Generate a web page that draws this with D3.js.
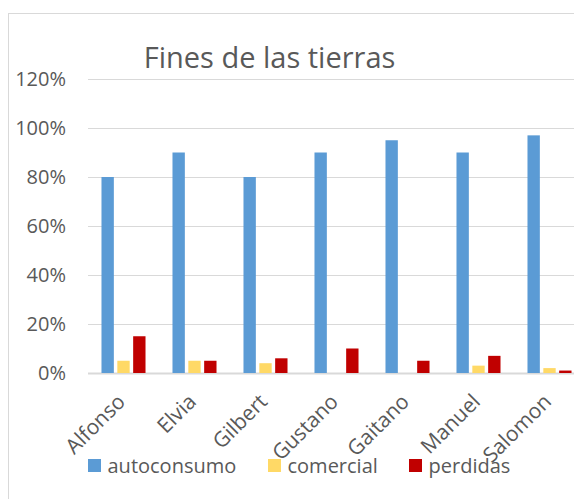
<!DOCTYPE html>
<html>
<head>
<meta charset="utf-8">
<script src="https://cdn.jsdelivr.net/npm/d3@7"></script>
<style>
  body { margin: 0; background: #fff; }
  text { font-family: "Open Sans", Lato, sans-serif; fill: #595959; }
</style>
</head>
<body>
<div id="chart"></div>
<script>
// values
const categories = ["Alfonso", "Elvia", "Gilbert", "Gustano", "Gaitano", "Manuel", "Salomon"];
const autoconsumo = [0.80, 0.90, 0.80, 0.90, 0.95, 0.90, 0.97];
const comercial = [0.05, 0.05, 0.04, 0.00, 0.00, 0.03, 0.02];
const perdidas = [0.15, 0.05, 0.06, 0.10, 0.05, 0.07, 0.01];
const seriesNames = ["autoconsumo", "comercial", "perdidas"];
const yTicks = [0, 0.2, 0.4, 0.6, 0.8, 1.0, 1.2];

const colors = { autoconsumo: "#5b9bd5", comercial: "#ffd966", perdidas: "#c00000" };
const seriesValues = { autoconsumo, comercial, perdidas };

const width = 574, height = 499;

const svg = d3.select("#chart")
    .append("svg")
    .attr("width", width)
    .attr("height", height);

// chart frame (runs off the right and bottom edges)
svg.append("rect")
    .attr("x", 8.5).attr("y", 13.5)
    .attr("width", 640).attr("height", 640)
    .attr("fill", "none")
    .attr("stroke", "#d9d9d9");

const x0 = d3.scaleBand()
    .domain(categories)
    .range([88, 585])
    .paddingInner(0.38)
    .paddingOuter(0.19);

const x1 = d3.scaleBand()
    .domain(seriesNames)
    .range([0, x0.bandwidth()])
    .paddingInner(0.22);

const y = d3.scaleLinear()
    .domain([0, 1.2])
    .range([373, 79]);

// gridlines
svg.append("g")
    .selectAll("line")
    .data(yTicks)
    .join("line")
    .attr("x1", 88).attr("x2", 600)
    .attr("y1", d => Math.round(y(d)) + 0.5)
    .attr("y2", d => Math.round(y(d)) + 0.5)
    .attr("stroke", "#d9d9d9")
    .attr("stroke-width", d => d === 0 ? 2 : 1);

// y tick labels
svg.append("g")
    .selectAll("text")
    .data(yTicks)
    .join("text")
    .attr("x", 66)
    .attr("y", d => y(d) + 7)
    .attr("text-anchor", "end")
    .style("font-size", "20px")
    .text(d => d3.format(".0%")(d));

// bars
const groups = svg.append("g")
    .selectAll("g")
    .data(categories)
    .join("g")
    .attr("transform", d => `translate(${x0(d)},0)`);

groups.selectAll("rect")
    .data((d, i) => seriesNames.map(s => ({ key: s, value: seriesValues[s][i] })))
    .join("rect")
    .attr("x", d => x1(d.key))
    .attr("width", x1.bandwidth())
    .attr("y", d => y(d.value))
    .attr("height", d => y(0) - y(d.value))
    .attr("fill", d => colors[d.key]);

// category labels, rotated
svg.append("g")
    .selectAll("text")
    .data(categories)
    .join("text")
    .attr("transform", d => `translate(${x0(d) + x0.bandwidth() / 2 + 3},${403}) rotate(-45)`)
    .attr("text-anchor", "end")
    .style("font-size", "21px")
    .text(d => d);

// title
svg.append("text")
    .attr("x", 269.5)
    .attr("y", 68)
    .attr("text-anchor", "middle")
    .style("font-size", "29px")
    .text("Fines de las tierras");

// legend
const legendX = [88, 268, 409];
const legend = svg.append("g")
    .selectAll("g")
    .data(seriesNames)
    .join("g")
    .attr("transform", (d, i) => `translate(${legendX[i]},459)`);

legend.append("rect")
    .attr("width", 13).attr("height", 13)
    .attr("fill", d => colors[d]);

legend.append("text")
    .attr("x", 19.5)
    .attr("y", 14)
    .style("font-size", "20px")
    .text(d => d);
</script>
</body>
</html>
